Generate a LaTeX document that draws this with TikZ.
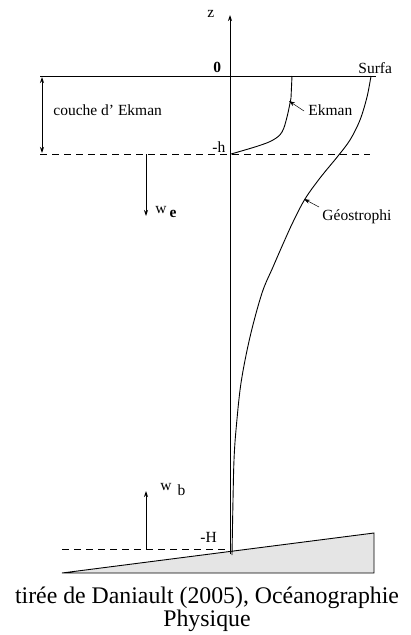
\documentclass[tikz,border=0pt]{standalone}
\usepackage{fontspec}
\setmainfont{Liberation Serif}
\setsansfont{Liberation Sans}
\usetikzlibrary{arrows.meta}
\begin{document}
\begin{tikzpicture}[x=1pt,y=-1pt,
  line width=0.9pt,
  lbl/.style={font=\fontsize{15.5}{17}\selectfont, inner sep=0pt, anchor=base west},
  tip/.style={-{Stealth[length=6pt,width=4pt]}},
  dtip/.style={{Stealth[length=6pt,width=4pt]}-{Stealth[length=6pt,width=4pt]}},
  dashline/.style={dash pattern=on 7pt off 5pt}]
\useasboundingbox (0,0) rectangle (410,635);
% coordinates
\coordinate (axb) at (230,554);
\coordinate (axt) at (230,15);
\coordinate (sL) at (40,76);
\coordinate (sR) at (376,76);
\coordinate (hL) at (40,154);
\coordinate (hR) at (370,154);
\coordinate (HL) at (62,549);
\coordinate (HR) at (228,549);
% seabed wedge
\filldraw[fill=black!10] (62,573) -- (374,533) -- (374,573) -- cycle;
% axis
\draw[tip] (axb) -- (axt);
\node[lbl] (z) at (207,17) {z};
% surface
\draw (sL) -- (sR);
\node[lbl, font=\bfseries\fontsize{15.5}{17}\selectfont] (zero) at (213,72) {0};
\node[lbl] (surf) at (358,73) {Surfa};
% Ekman layer
\draw[dashline] (hL) -- (hR);
\coordinate (cT) at (42,77);
\coordinate (cB) at (42,153);
\draw[dtip] (cT) -- (cB);
\node[lbl] (couche) at (53,115) {couche d' Ekman};
\node[lbl] (mh) at (212,152) {-h};
% Ekman profile
\draw (292,76) -- (291,98) plot[smooth, tension=0.6] coordinates {(291,98) (287,117) (282,132) (273,140) (258,146) (231,154)};
\coordinate (ekc) at (289,101);
\node[lbl] (ekman) at (308,115) {Ekman};
\coordinate (eka) at (304,111);
\draw[tip, line width=0.5pt] (eka) -- (ekc);
% Geostrophic profile
\draw plot[smooth, tension=0.55] coordinates {(371,76) (367,97) (360,120) (350,140) (338,156) (320,178) (305,199) (293,222) (283,244) (273,267) (262,293) (250,337) (241,383) (236,430) (234,460) (233,500) (232,555)};
\coordinate (gec) at (304,199);
\node[lbl] (geo) at (322,220) {Géostrophi};
\coordinate (geoa) at (319,207);
\draw[tip, line width=0.5pt] (geoa) -- (gec);
% w_e
\coordinate (weT) at (146,154);
\coordinate (weB) at (146,216);
\draw[tip] (weT) -- (weB);
\node[lbl] (we) at (155,213) {w\hspace{3pt}\raisebox{-4pt}{\bfseries e}};
% bottom
\draw[dashline] (HL) -- (HR);
\node[lbl] (mH) at (200,542) {-H};
\coordinate (wbB) at (146,549);
\coordinate (wbT) at (146,491);
\draw[tip] (wbB) -- (wbT);
\node[lbl] (wb) at (160,490) {w\hspace{6pt}\raisebox{-5pt}{b}};
% caption
\node[font=\fontsize{23.8}{23}\selectfont, align=center, inner sep=0pt, anchor=north] (cap) at (207,586) {tirée de Daniault (2005), Océanographie\\Physique};
\end{tikzpicture}
\end{document}
